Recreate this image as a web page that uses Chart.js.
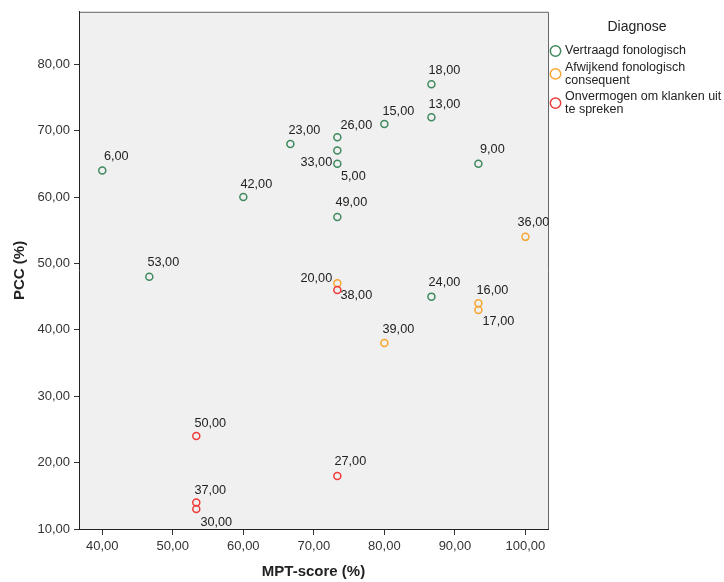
<!DOCTYPE html>
<html>
<head>
<meta charset="utf-8">
<script src="https://cdn.jsdelivr.net/npm/chart.js@4.4.1/dist/chart.umd.min.js"></script>
<style>
    html, body { margin: 0; padding: 0; background: #ffffff; }
    #wrap { width: 724px; height: 582px; }
</style>
</head>
<body>
<div id="wrap"><canvas id="scatter" width="724" height="582"></canvas></div>
<script>
// Diagnose groups (legend)
const categories = ['Vertraagd fonologisch', 'Afwijkend fonologisch consequent', 'Onvermogen om klanken uit te spreken'];
const groupColors = ['#3f8a5f', '#f7a530', '#ee3b3b'];

// one entry per child
const mptScore = [40, 46.67, 60, 66.67, 73.33, 73.33, 73.33, 80, 86.67, 86.67, 93.33, 73.33, 86.67,
    100, 73.33, 93.33, 93.33, 80,
    73.33, 53.33, 73.33, 53.33, 53.33];
const pccScore = [64, 48, 60, 68, 69, 67, 65, 71, 77, 72, 65, 57, 45,
    54, 47, 44, 43, 38,
    46, 24, 18, 14, 13];
const caseId = [6, 53, 42, 23, 26, 5, 33, 15, 18, 13, 9, 49, 24,
    36, 20, 16, 17, 39,
    38, 50, 27, 37, 30];
const diagnose = [0, 0, 0, 0, 0, 0, 0, 0, 0, 0, 0, 0, 0,
    1, 1, 1, 1, 1,
    2, 2, 2, 2, 2];

// where each case label sits relative to its point (px)
const labelOffsets = [[14, -14], [14, -14], [13, -13], [14, -13], [19, -12], [16, 26], [-21, -1], [14, -13], [13, -14], [13, -13], [14, -14], [14, -14], [13, -14],
    [8, -14], [-21, -5], [14, -13], [20, 12], [14, -14],
    [19, 6], [14, -13], [13, -14], [14, -12], [20, 13]];

const xTicks = [40, 50, 60, 70, 80, 90, 100];
const yTicks = [10, 20, 30, 40, 50, 60, 70, 80];

const FONT = '"Liberation Sans", Arial, sans-serif';
const fmt = v => v.toFixed(2).replace('.', ',');

const datasets = categories.map((name, g) => {
    const pts = [];
    mptScore.forEach((x, i) => {
        if (diagnose[i] === g) pts.push({ x, y: pccScore[i], id: caseId[i], off: labelOffsets[i] });
    });
    return {
        label: name,
        data: pts,
        borderColor: groupColors[g],
        backgroundColor: 'rgba(0,0,0,0)',
        pointRadius: 3.5,
        pointBorderWidth: 1.5,
        pointHoverRadius: 3.5,
        order: 2 - g
    };
});

// plot background + frame
const plotFrame = {
    id: 'plotFrame',
    beforeDraw(chart) {
        const { ctx, chartArea: a } = chart;
        ctx.save();
        ctx.fillStyle = '#f0f0f0';
        ctx.fillRect(a.left, a.top, a.right - a.left, a.bottom - a.top);
        ctx.strokeStyle = '#666666';
        ctx.lineWidth = 1;
        ctx.beginPath();
        ctx.moveTo(a.left, a.top + 0.5);
        ctx.lineTo(a.right + 0.5, a.top + 0.5);
        ctx.lineTo(a.right + 0.5, a.bottom);
        ctx.stroke();
        ctx.restore();
    }
};

// case number next to each point
const caseLabels = {
    id: 'caseLabels',
    afterDatasetsDraw(chart) {
        const ctx = chart.ctx;
        ctx.save();
        ctx.font = '12.7px ' + FONT;
        ctx.fillStyle = '#222222';
        ctx.textAlign = 'center';
        ctx.textBaseline = 'middle';
        chart.data.datasets.forEach((ds, di) => {
            const meta = chart.getDatasetMeta(di);
            meta.data.forEach((el, i) => {
                const p = ds.data[i];
                ctx.fillText(fmt(p.id), el.x + p.off[0], el.y + p.off[1]);
            });
        });
        ctx.restore();
    }
};

// legend on the right with wrapped labels
const sideLegend = {
    id: 'sideLegend',
    afterDraw(chart) {
        const ctx = chart.ctx;
        const textX = 565;
        const maxW = chart.width - textX - 1;
        ctx.save();
        ctx.fillStyle = '#222222';
        ctx.font = '14px ' + FONT;
        ctx.textAlign = 'center';
        ctx.textBaseline = 'middle';
        ctx.fillText('Diagnose', 637, 27);

        ctx.font = '12.5px ' + FONT;
        ctx.textAlign = 'left';
        const lineH = 12.6;
        let y = 51;
        categories.forEach((name, g) => {
            const words = name.split(' ');
            const lines = [];
            let cur = '';
            words.forEach(w => {
                const test = cur ? cur + ' ' + w : w;
                if (ctx.measureText(test).width > maxW && cur) {
                    lines.push(cur);
                    cur = w;
                } else {
                    cur = test;
                }
            });
            lines.push(cur);

            lines.forEach((ln, k) => {
                ctx.fillStyle = '#222222';
                ctx.fillText(ln, textX, y + k * lineH);
            });
            const cy = y + (lines.length - 1) * lineH / 2;
            ctx.strokeStyle = groupColors[g];
            ctx.lineWidth = 1.5;
            ctx.beginPath();
            ctx.arc(555.5, cy, 5.2, 0, Math.PI * 2);
            ctx.stroke();
            y += lines.length * lineH + 4;
        });
        ctx.restore();
    }
};

new Chart(document.getElementById('scatter'), {
    type: 'scatter',
    data: { datasets },
    options: {
        responsive: false,
        animation: false,
        devicePixelRatio: 1,
        layout: { padding: { top: 10, right: 176, left: 0, bottom: 0 } },
        plugins: {
            legend: { display: false },
            tooltip: { enabled: false }
        },
        scales: {
            x: {
                type: 'linear',
                min: 36.7,
                max: 103.2,
                afterFit: s => { s.height = 53; },
                afterBuildTicks: s => { s.ticks = xTicks.map(v => ({ value: v })); },
                grid: { drawOnChartArea: false, drawTicks: true, tickLength: 6, color: '#333333' },
                border: { display: true, color: '#222222', width: 1 },
                ticks: {
                    padding: 4,
                    color: '#333333',
                    font: { family: FONT, size: 13 },
                    callback: v => fmt(v)
                },
                title: {
                    display: true,
                    text: 'MPT-score (%)',
                    color: '#222222',
                    font: { family: FONT, size: 15, weight: 'bold' },
                    padding: { top: 0, bottom: 1 }
                }
            },
            y: {
                type: 'linear',
                min: 10,
                max: 87.9,
                afterFit: s => { s.width = 79; },
                afterBuildTicks: s => { s.ticks = yTicks.map(v => ({ value: v })); },
                grid: { drawOnChartArea: false, drawTicks: true, tickLength: 5, color: '#333333' },
                border: { display: true, color: '#222222', width: 1 },
                ticks: {
                    padding: 4,
                    color: '#333333',
                    font: { family: FONT, size: 13 },
                    callback: v => fmt(v)
                },
                title: {
                    display: true,
                    text: 'PCC (%)',
                    color: '#222222',
                    font: { family: FONT, size: 15, weight: 'bold' },
                    padding: { top: 11, bottom: 0 }
                }
            }
        }
    },
    plugins: [plotFrame, caseLabels, sideLegend]
});
</script>
</body>
</html>
